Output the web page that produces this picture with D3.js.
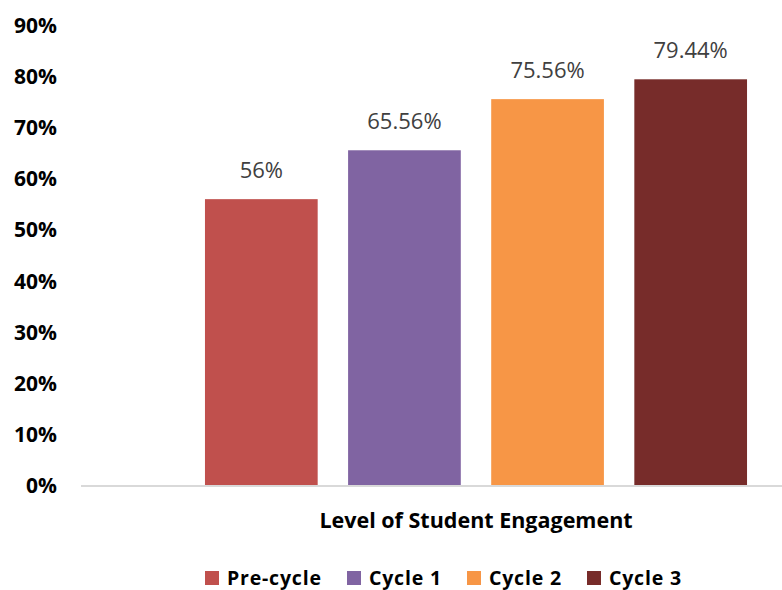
<!DOCTYPE html>
<meta charset="utf-8">
<title>Level of Student Engagement</title>
<style>
body { margin: 0; background: #fff; }
svg { display: block; font-family: "Open Sans", Lato, sans-serif; }
.tick-label { font-weight: bold; fill: #000; }
.data-label { fill: #404040; }
.legend text { font-weight: bold; fill: #000; letter-spacing: 0.8px; }
</style>
<script src="https://d3js.org/d3.v7.min.js"></script>
<body>
<script>

var width = 782, height = 590;

// data
var category = ["Level of Student Engagement"];
var series = ["Pre-cycle", "Cycle 1", "Cycle 2", "Cycle 3"];
var values = [56, 65.56, 75.56, 79.44];
var labels = ["56%", "65.56%", "75.56%", "79.44%"];
var ticks = [0, 10, 20, 30, 40, 50, 60, 70, 80, 90];
var colors = ["#C0504D", "#8064A2", "#F79646", "#772C2A"];

var svg = d3.select("body").append("svg")
    .attr("width", width)
    .attr("height", height);

var y = d3.scaleLinear()
    .domain([0, 90])
    .range([485.5, 25.3]);

// one category, plot area runs past the right edge of the picture
var x0 = d3.scaleBand()
    .domain(category)
    .range([81, 871]);

var groupW = 572.4;
var x1 = d3.scaleBand()
    .domain(series)
    .range([0, groupW])
    .paddingInner(0.2125)
    .paddingOuter(0.106);

var color = d3.scaleOrdinal().domain(series).range(colors);

var groupX = x0(category[0]) + (x0.bandwidth() - groupW) / 2;

// y tick labels
svg.append("g").selectAll("text")
    .data(ticks)
  .enter().append("text")
    .attr("class", "tick-label")
    .attr("x", 57)
    .attr("y", function(d) { return y(d); })
    .attr("dy", "0.36em")
    .style("font-size", "21px")
    .style("text-anchor", "end")
    .text(function(d) { return d + "%"; });

// bars
var bars = svg.append("g")
    .attr("transform", "translate(" + groupX + ",0)");

bars.selectAll("rect")
    .data(series)
  .enter().append("rect")
    .attr("x", function(d) { return x1(d); })
    .attr("y", function(d, i) { return y(values[i]); })
    .attr("width", x1.bandwidth())
    .attr("height", function(d, i) { return y(0) - y(values[i]); })
    .attr("fill", color);

bars.selectAll("text")
    .data(series)
  .enter().append("text")
    .attr("class", "data-label")
    .attr("x", function(d) { return x1(d) + x1.bandwidth() / 2; })
    .attr("y", function(d, i) { return y(values[i]) - 21; })
    .style("font-size", "22px")
    .style("text-anchor", "middle")
    .text(function(d, i) { return labels[i]; });

// x axis line
svg.append("line")
    .attr("x1", x0.range()[0])
    .attr("x2", x0.range()[1])
    .attr("y1", y(0) + 0.5)
    .attr("y2", y(0) + 0.5)
    .attr("stroke", "#D9D9D9")
    .attr("stroke-width", 2);

// category label
svg.append("text")
    .attr("class", "tick-label")
    .attr("x", groupX + groupW / 2)
    .attr("y", 527.5)
    .style("font-size", "21.5px")
    .style("text-anchor", "middle")
    .text(category[0]);

// legend
var legendX = [205, 347, 467, 587];
var legend = svg.append("g").attr("class", "legend")
  .selectAll("g")
    .data(series)
  .enter().append("g")
    .attr("transform", function(d, i) { return "translate(" + legendX[i] + ",571)"; });

legend.append("rect")
    .attr("width", 14)
    .attr("height", 14)
    .attr("fill", color);

legend.append("text")
    .attr("x", 22)
    .attr("y", 14)
    .style("font-size", "19.5px")
    .text(function(d) { return d; });

</script>
